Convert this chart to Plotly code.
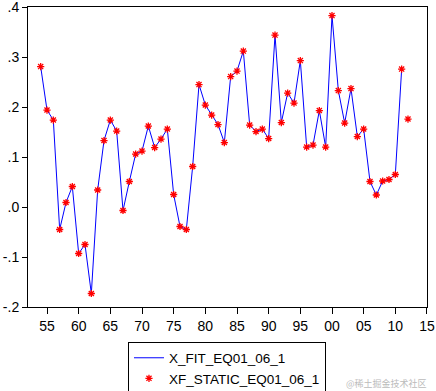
import plotly.graph_objects as go

years = list(range(1954, 2013))
xf_static = [0.281, 0.194, 0.174, -0.045, 0.009, 0.041, -0.093, -0.075, -0.173, 0.034,
             0.133, 0.174, 0.152, -0.007, 0.051, 0.106, 0.112, 0.162, 0.119, 0.136,
             0.156, 0.025, -0.039, -0.045, 0.081, 0.245, 0.204, 0.184, 0.165, 0.129,
             0.261, 0.272, 0.312, 0.164, 0.151, 0.156, 0.137, 0.344, 0.169, 0.228,
             0.208, 0.293, 0.120, 0.124, 0.193, 0.120, 0.383, 0.233, 0.168, 0.237,
             0.141, 0.156, 0.051, 0.024, 0.052, 0.055, 0.065, 0.276, 0.176]
x_fit = xf_static[:-1] + [None]

xtick_vals = [1955, 1960, 1965, 1970, 1975, 1980, 1985, 1990, 1995, 2000, 2005, 2010, 2015]
xtick_text = ["55", "60", "65", "70", "75", "80", "85", "90", "95", "00", "05", "10", "15"]
ytick_vals = [-0.2, -0.1, 0.0, 0.1, 0.2, 0.3, 0.4]
ytick_text = ["-.2", "-.1", ".0", ".1", ".2", ".3", ".4"]

font = "Liberation Sans, Arial, sans-serif"

fig = go.Figure()
fig.add_trace(go.Scatter(x=years, y=x_fit, mode="lines", name="X_FIT_EQ01_06_1",
                         line=dict(color="#0000FF", width=1), connectgaps=False))
fig.add_trace(go.Scatter(x=years, y=xf_static, mode="markers", name="XF_STATIC_EQ01_06_1",
                         marker=dict(symbol="asterisk", size=6, color="#FF0000",
                                     line=dict(color="#FF0000", width=1.3))))

fig.update_layout(
    width=436, height=391,
    margin=dict(l=28, r=9, t=7, b=84, autoexpand=False),
    paper_bgcolor="white", plot_bgcolor="white",
    font=dict(family=font, size=14, color="black"),
    showlegend=True,
    legend=dict(x=0.2506, y=-0.115, xanchor="left", yanchor="top",
                bordercolor="black", borderwidth=1, bgcolor="white",
                font=dict(family=font, size=13.5, color="black"),
                tracegroupgap=0, itemwidth=30),
    xaxis=dict(range=[1952, 2015.001], tickmode="array", tickvals=xtick_vals, ticktext=xtick_text,
               showgrid=False, zeroline=False, showline=True, linecolor="black", linewidth=1,
               mirror=True, ticks="outside", ticklen=6, tickcolor="black", tickwidth=1,
               automargin=False, ticklabeloverflow="allow"),
    yaxis=dict(range=[-0.2, 0.4001], tickmode="array", tickvals=ytick_vals, ticktext=ytick_text,
               showgrid=False, zeroline=False, showline=True, linecolor="black", linewidth=1,
               mirror=True, ticks="outside", ticklen=5, tickcolor="black", tickwidth=1,
               automargin=False, ticklabeloverflow="allow"),
    annotations=[dict(text="@稀土掘金技术社区", x=1.005, y=-0.225, xref="paper", yref="paper",
                      xanchor="right", yanchor="top", showarrow=False,
                      font=dict(family="Noto Sans CJK SC", size=9, color="#BBBBBB"))],
)

fig.write_html("out.html", config={"displayModeBar": False},
               post_script="document.body.style.margin='0';document.body.style.padding='0';")
